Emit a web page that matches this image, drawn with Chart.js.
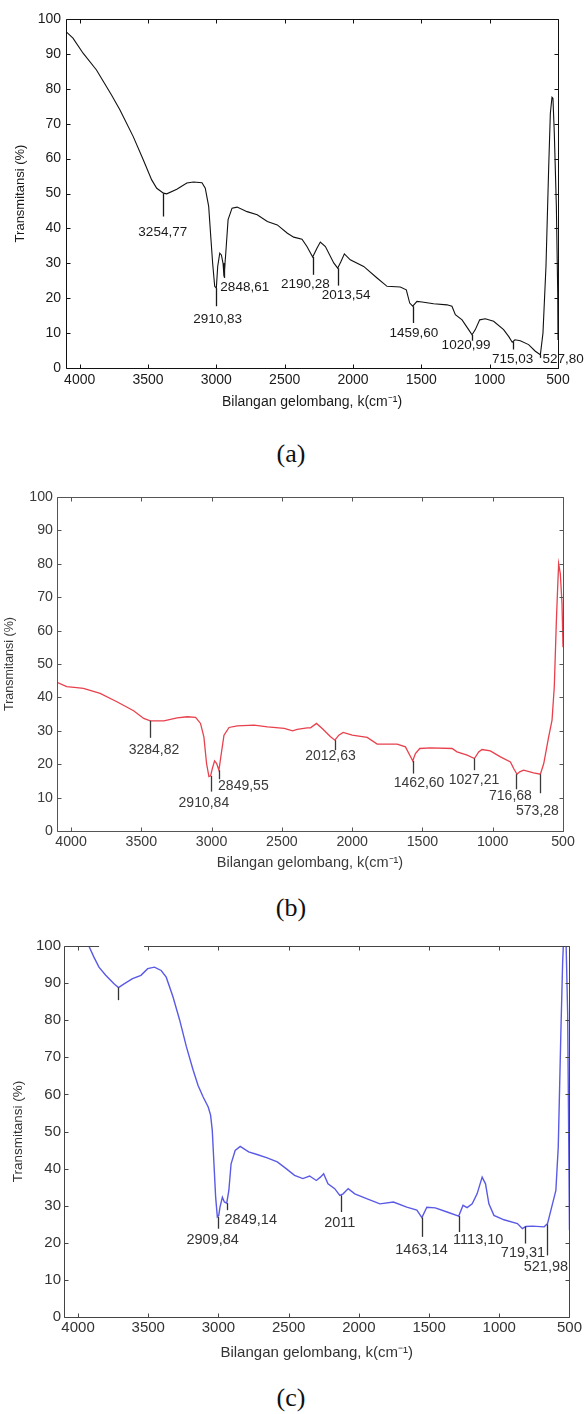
<!DOCTYPE html>
<html>
<head>
<meta charset="utf-8">
<script src="https://cdn.jsdelivr.net/npm/chart.js@4.4.1/dist/chart.umd.min.js"></script>
<style>
  html, body { margin: 0; padding: 0; background: #fff; }
  body { width: 584px; height: 1414px; position: relative; overflow: hidden; }
  canvas { position: absolute; left: 0; }
  .cap { position: absolute; left: 0; width: 582px; text-align: center;
         font: 26px "Liberation Serif", "Times New Roman", serif; line-height: 26px; color: #111; }
</style>
</head>
<body>
<canvas id="ca"></canvas>
<div class="cap" style="top:441px">(a)</div>
<canvas id="cb"></canvas>
<div class="cap" style="top:895px">(b)</div>
<canvas id="cc"></canvas>
<div class="cap" style="top:1385px">(c)</div>
<script>
// Axis ticks shared by the three spectra
const xTicks = [4000, 3500, 3000, 2500, 2000, 1500, 1000, 500];
const yTicks = [0, 10, 20, 30, 40, 50, 60, 70, 80, 90, 100];

// (a) wavenumber / transmittance
const aW = [4100, 4049, 3975, 3877, 3767, 3706, 3608, 3534, 3473, 3436, 3387, 3363, 3289, 3216, 3167, 3105,
  3081, 3056, 3039, 3027, 3012, 3000, 2990, 2975, 2963, 2951, 2944, 2931, 2914, 2885, 2848, 2775, 2701,
  2627, 2554, 2480, 2434, 2373, 2337, 2295, 2263, 2239, 2202, 2141, 2112, 2088, 2063, 2020, 1922, 1824,
  1751, 1654, 1610, 1585, 1563, 1532, 1495, 1410, 1312, 1276, 1251, 1202, 1154, 1129, 1105, 1073, 1032,
  971, 898, 860, 835, 815, 776, 715, 666, 629, 610, 588, 568, 556, 544, 537, 527, 512, 502, 500];
const aT = [96.4, 94.5, 90.2, 85.4, 78.2, 74, 66.3, 59.6, 53.9, 51.5, 50.1, 49.9, 51.2, 53, 53.3, 53.1,
  51.5, 46.3, 36.7, 30, 23.4, 22.9, 29.1, 32.9, 32.4, 30, 26.2, 32.9, 42.5, 45.8, 46.1, 44.8, 43.9,
  42, 41, 38.6, 37.5, 36.9, 34.8, 31.8, 34.4, 36.1, 34.8, 30.1, 28.6, 30.5, 32.7, 31, 29.1, 25.8,
  23.4, 23.2, 22.4, 18.6, 17.7, 19.1, 18.9, 18.4, 18.1, 17.7, 15.3, 13.8, 11, 9.5, 11, 13.8, 14.1,
  13.4, 11, 9, 7.4, 8.1, 7.8, 6.7, 4.8, 3.8, 10, 29.1, 57.7, 73, 77.6, 77.3, 67.3, 46.3, 21.5, 8];
const aPeakX = [3387, 3000, 2944, 2295, 2112, 1563, 1129, 829, 629];
const aPeakTop = [50, 22.9, 30, 31.8, 28.6, 17.7, 9.5, 7.6, 3.8];
const aPeakBottom = [43.4, 17.7, 25.8, 26.7, 23.6, 12.9, 7.8, 5.3, 2.9];
const aLabels = ['3254,77', '2910,83', '2848,61', '2190,28', '2013,54', '1459,60', '1020,99', '715,03', '527,80'];
const aLabelX = [3392, 2990, 2792, 2349, 2051, 1554, 1173, 832, 463];
const aLabelY = [38.8, 14.1, 23.2, 24.1, 20.7, 10, 6.5, 2.6, 2.4];

// (b)
const bW = [4100, 4031, 3960, 3912, 3793, 3674, 3555, 3483, 3436, 3340, 3245, 3174, 3114, 3079, 3055, 3036,
  3019, 3007, 2995, 2979, 2964, 2948, 2931, 2912, 2876, 2817, 2698, 2602, 2483, 2424, 2391, 2320, 2296,
  2254, 2213, 2154, 2123, 2095, 2064, 2000, 1893, 1822, 1680, 1621, 1590, 1569, 1550, 1519, 1443, 1289,
  1254, 1182, 1130, 1100, 1076, 1017, 945, 874, 851, 827, 808, 780, 709, 661, 637, 602, 578, 562, 547,
  536, 531, 519, 507, 500];
const bT = [44.5, 43.2, 42.9, 42.7, 41.2, 38.7, 36, 33.7, 33, 33, 33.9, 34.2, 34, 32.2, 28.2, 20.2,
  16.3, 16.5, 18.7, 21, 20.2, 18.2, 23.2, 28.7, 31, 31.5, 31.7, 31.2, 30.7, 30, 30.4, 30.9, 30.9,
  32.2, 30.7, 28.2, 27.2, 28.7, 29.5, 28.7, 28, 26, 26, 25.2, 22.7, 21, 23.2, 24.7, 24.9, 24.7,
  23.7, 22.7, 21.7, 23.7, 24.4, 24, 22.2, 20.7, 18.7, 17, 17.7, 18.2, 17.4, 17, 20.2, 28.2, 33.2, 43.2, 63.1,
  75, 80, 77, 68, 55];
const bPeakX = [3436, 3007, 2948, 2123, 1569, 1130, 832, 661];
const bPeakTop = [33, 16.5, 18.2, 27.2, 21, 21.7, 17, 17];
const bPeakBottom = [27.9, 11.8, 15.5, 24.2, 17.2, 18.2, 12.5, 11.3];
const bLabels = ['3284,82', '2910,84', '2849,55', '2012,63', '1462,60', '1027,21', '716,68', '573,28'];
const bLabelX = [3410, 3055, 2774, 2154, 1524, 1133, 874, 682];
const bLabelY = [24.2, 8.3, 13.3, 22.4, 14.3, 15.3, 10.3, 5.8];

// (c)
const cW = [3960, 3923, 3887, 3851, 3803, 3744, 3712, 3672, 3612, 3552, 3504, 3456, 3408, 3372, 3324, 3276,
  3228, 3180, 3145, 3109, 3073, 3056, 3044, 3032, 3020, 3008, 2998, 2989, 2972, 2958, 2941, 2926, 2910,
  2881, 2845, 2785, 2725, 2653, 2581, 2518, 2458, 2399, 2351, 2303, 2274, 2251, 2220, 2172, 2136, 2112,
  2076, 2029, 1945, 1850, 1754, 1659, 1587, 1551, 1516, 1456, 1372, 1289, 1258, 1229, 1193, 1158, 1122,
  1098, 1074, 1038, 967, 871, 835, 811, 764, 680, 656, 621, 597, 580, 561, 549, 542, 525, 513, 500];
const cT = [104, 100, 97, 94.3, 92.1, 89.8, 88.8, 89.8, 91.2, 92.1, 93.9, 94.3, 93.4, 91.6, 86.3, 80,
  72.8, 66.5, 62.4, 59.3, 56.6, 54.4, 50.3, 41.3, 32.3, 27, 27.4, 29.6, 32.3, 31, 30.7, 34.1, 41.3,
  44.9, 46, 44.5, 43.8, 42.9, 41.8, 40, 38.2, 37.3, 38, 36.8, 37.7, 38.6, 35.9, 34.6, 32.8, 33.2,
  34.6, 33.2, 31.9, 30.5, 31, 29.6, 28.8, 26.8, 29.6, 29.4, 28.3, 27.2, 30.1, 29.5, 30.5, 33.2, 37.7,
  35.9, 30.5, 27.4, 26.2, 25.2, 23.8, 24.4, 24.5, 24.3, 25.2, 30.5, 34.1, 45.8, 77.3, 95.2, 102, 102, 81.8, 23.4];
const cPeakX = [3712, 3001, 2941, 2124, 1551, 1284, 816, 663];
const cPeakTop = [88.8, 27, 30.7, 32.8, 26.8, 27.2, 24.4, 25];
const cPeakBottom = [85.4, 23.8, 28.8, 28.3, 21.6, 22.9, 19.8, 16.6];
const cLabels = ['', '2909,84', '2849,14', '2011', '1463,14', '1113,10', '719,31', '521,98'];
const cLabelX = [3712, 3041, 2770, 2136, 1554, 1150, 831, 668];
const cLabelY = [0, 20.7, 26.1, 25.4, 18, 20.7, 17.3, 13.5];
const cFrameGap = [3850, 3530];

const FONT = '"Liberation Sans", Arial, sans-serif';

// box around the plot with inward ticks on all four sides
const framePlugin = {
  id: 'frame',
  afterDraw(chart, args, o) {
    const { ctx, chartArea: a, scales: { x, y } } = chart;
    const L = a.left + 0.5, R = Math.round(a.right) + 0.5, T = a.top + 0.5, B = Math.round(a.bottom) + 0.5;
    ctx.save();
    ctx.strokeStyle = o.color;
    ctx.lineWidth = 1;
    ctx.beginPath();
    ctx.moveTo(L, T); ctx.lineTo(L, B); ctx.lineTo(R, B); ctx.lineTo(R, T);
    if (o.gap) {
      ctx.lineTo(x.getPixelForValue(o.gap[1]), T);
      ctx.moveTo(x.getPixelForValue(o.gap[0]), T);
    }
    ctx.lineTo(L, T);
    xTicks.forEach(v => {
      const p = Math.round(x.getPixelForValue(v)) + 0.5;
      ctx.moveTo(p, B); ctx.lineTo(p, B - 4);
      ctx.moveTo(p, T); ctx.lineTo(p, T + 4);
    });
    yTicks.forEach(v => {
      const p = Math.round(y.getPixelForValue(v)) + 0.5;
      ctx.moveTo(L, p); ctx.lineTo(L + 4, p);
      ctx.moveTo(R, p); ctx.lineTo(R - 4, p);
    });
    ctx.stroke();
    ctx.restore();
  }
};

// peak markers: short vertical line under the band plus its wavenumber text
const peakPlugin = {
  id: 'peaks',
  afterDatasetsDraw(chart, args, o) {
    const { ctx, scales: { x, y } } = chart;
    ctx.save();
    ctx.strokeStyle = o.color;
    ctx.fillStyle = o.color;
    ctx.lineWidth = 1.3;
    ctx.font = o.font;
    ctx.textAlign = 'center';
    ctx.textBaseline = 'middle';
    o.x.forEach((v, i) => {
      const p = Math.round(x.getPixelForValue(v)) + 0.5;
      ctx.beginPath();
      ctx.moveTo(p, y.getPixelForValue(o.top[i]));
      ctx.lineTo(p, y.getPixelForValue(o.bottom[i]));
      ctx.stroke();
      if (o.labels[i]) ctx.fillText(o.labels[i], x.getPixelForValue(o.lx[i]), y.getPixelForValue(o.ly[i]));
    });
    ctx.restore();
  }
};

function spectrum(id, p) {
  const el = document.getElementById(id);
  el.width = 584; el.height = p.height;
  el.style.top = p.top + 'px';
  const xTitleLh = p.xTitleSize * 1.2;
  return new Chart(el, {
    type: 'line',
    data: {
      datasets: [{
        data: p.w.map((w, i) => ({ x: w, y: p.t[i] })),
        borderColor: p.line,
        borderWidth: p.lineWidth,
        pointRadius: 0,
        tension: 0,
        fill: false,
      }],
    },
    options: {
      responsive: false,
      animation: false,
      events: [],
      layout: { padding: { top: p.area.top, right: 584 - p.area.right, left: 0, bottom: 0 } },
      plugins: {
        legend: { display: false },
        tooltip: { enabled: false },
        frame: { color: p.frame, gap: p.gap },
        peaks: {
          color: p.text, font: `${p.peakSize}px ${FONT}`,
          x: p.peakX, top: p.peakTop, bottom: p.peakBottom, labels: p.labels, lx: p.lx, ly: p.ly,
        },
      },
      scales: {
        x: {
          type: 'linear', reverse: true, min: 500, max: 4100,
          afterBuildTicks: s => { s.ticks = xTicks.map(v => ({ value: v })); },
          afterFit: s => { s.height = p.height - p.area.bottom; },
          grid: { display: false, drawTicks: false },
          border: { display: false },
          ticks: {
            color: p.text, padding: p.tickPadX, maxRotation: 0,
            font: { family: FONT, size: p.tickSize },
            callback: v => String(v),
          },
          title: {
            display: true, text: 'Bilangan gelombang, k(cm⁻¹)', color: p.text,
            font: { family: FONT, size: p.xTitleSize },
            padding: { top: 0, bottom: p.height - p.titleY - xTitleLh / 2 },
          },
        },
        y: {
          min: 0, max: 100,
          afterBuildTicks: s => { s.ticks = yTicks.map(v => ({ value: v })); },
          afterFit: s => { s.width = p.area.left; },
          grid: { display: false, drawTicks: false },
          border: { display: false },
          ticks: {
            color: p.text, padding: p.tickPadY,
            font: { family: FONT, size: p.tickSize },
            callback: v => String(v),
          },
          title: {
            display: true, text: 'Transmitansi (%)', color: p.text,
            font: { family: FONT, size: p.yTitleSize },
            padding: { top: p.yTitlePad, bottom: 0 },
          },
        },
      },
    },
    plugins: [framePlugin, peakPlugin],
  });
}

spectrum('ca', {
  top: 0, height: 420, area: { left: 66, right: 558, top: 19, bottom: 368 }, titleY: 402,
  w: aW, t: aT, line: '#111', lineWidth: 1.1, frame: '#111', text: '#1a1a1a',
  tickSize: 14, xTitleSize: 14, yTitleSize: 13, peakSize: 13.5, tickPadX: 4, tickPadY: 5, yTitlePad: 13,
  peakX: aPeakX, peakTop: aPeakTop, peakBottom: aPeakBottom, labels: aLabels, lx: aLabelX, ly: aLabelY,
});

spectrum('cb', {
  top: 470, height: 410, area: { left: 57, right: 563, top: 27, bottom: 361 }, titleY: 393,
  w: bW, t: bT, line: '#e8404c', lineWidth: 1.3, frame: '#555', text: '#3a3a3a',
  tickSize: 14.2, xTitleSize: 14.5, yTitleSize: 12.5, peakSize: 14, tickPadX: 3, tickPadY: 4, yTitlePad: 2,
  peakX: bPeakX, peakTop: bPeakTop, peakBottom: bPeakBottom, labels: bLabels, lx: bLabelX, ly: bLabelY,
});

spectrum('cc', {
  top: 930, height: 445, area: { left: 64, right: 570, top: 16, bottom: 387 }, titleY: 423,
  w: cW, t: cT, line: '#5a5ae6', lineWidth: 1.4, frame: '#444', text: '#333',
  tickSize: 15, xTitleSize: 15, yTitleSize: 13.5, peakSize: 14.5, tickPadX: 2, tickPadY: 3, yTitlePad: 10,
  gap: cFrameGap,
  peakX: cPeakX, peakTop: cPeakTop, peakBottom: cPeakBottom, labels: cLabels, lx: cLabelX, ly: cLabelY,
});
</script>
</body>
</html>
